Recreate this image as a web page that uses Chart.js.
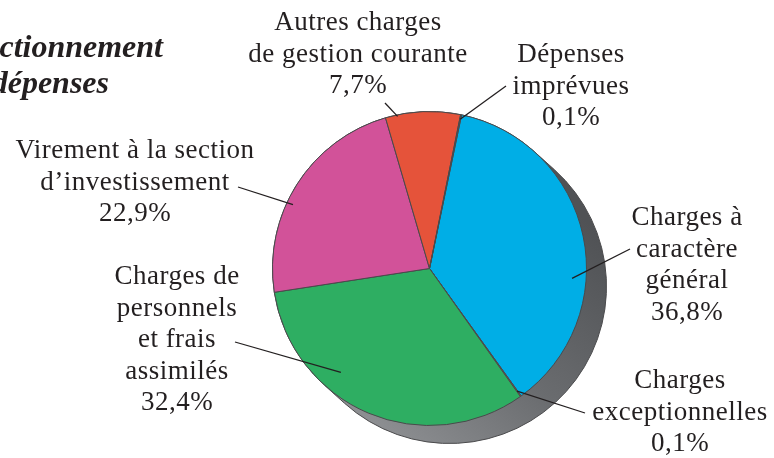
<!DOCTYPE html>
<html>
<head>
<meta charset="utf-8">
<script src="https://cdn.jsdelivr.net/npm/chart.js@4/dist/chart.umd.min.js"></script>
<style>
  html, body { margin:0; padding:0; background:#fff; }
  #pie { display:block; }
</style>
</head>
<body>
<canvas id="pie" width="774" height="458"></canvas>
<script>
// data, clockwise from the top
const categories = [
  ['Charges à', 'caractère', 'général'],
  ['Charges', 'exceptionnelles'],
  ['Charges de', 'personnels', 'et frais', 'assimilés'],
  ['Virement à la section', 'd\u2019investissement'],
  ['Autres charges', 'de gestion courante'],
  ['Dépenses', 'imprévues']
];
const shares = [36.8, 0.1, 32.4, 22.9, 7.7, 0.1];
const titleLines = ['Fonctionnement', 'des dépenses'];

const sliceColors = ['#00aee6', '#d8602f', '#2eae62', '#d25299', '#e5533a', '#5e5f62'];

// label placement: text centre, first baseline, leader start, anchor inside slice (t along arc, r fraction)
const labelLayout = [
  {x:687, y:225, from:[630,249], t:0.62, r:0.91},
  {x:680, y:388, from:[585,413], t:0.5,  r:0.96},
  {x:177, y:284, from:[235,342], t:0.65, r:0.87},
  {x:135, y:158, from:[238,187], t:0.41, r:0.96},
  {x:358, y:30,  from:[385,103], t:0.16, r:0.99},
  {x:571, y:62,  from:[506,86],  t:0.5,  r:0.97}
];
const lineH = 31.5;
const ink = '#231f20';
const labelFont = '27px "Liberation Serif", "Times New Roman", serif';

const fmt = v => v.toFixed(1).replace('.', ',') + '%';

// gray extrusion under the pie
const shadowPlugin = {
  id:'shadow3d',
  beforeDatasetsDraw(chart){
    const arc = chart.getDatasetMeta(0).data[0];
    if(!arc) return;
    const {x, y, outerRadius:R} = arc.getProps(['x','y','outerRadius'], true);
    const dx = 20, dy = 18;
    const th = Math.atan2(dy, dx);
    const ctx = chart.ctx;
    ctx.save();
    ctx.beginPath();
    ctx.arc(x+dx, y+dy, R, th - Math.PI/2, th + Math.PI/2);
    ctx.arc(x, y, R, th + Math.PI/2, th - Math.PI/2);
    ctx.closePath();
    const g = ctx.createLinearGradient(x+R, y-R*0.3, x-R*0.2, y+R+dy);
    g.addColorStop(0, '#505255');
    g.addColorStop(0.55, '#6a6c6f');
    g.addColorStop(1, '#8c8e91');
    ctx.fillStyle = g;
    ctx.fill();
    ctx.strokeStyle = '#4a4a4c';
    ctx.lineWidth = 1;
    ctx.stroke();
    ctx.restore();
  }
};

// outside labels, leader lines and the clipped title
const labelPlugin = {
  id:'outLabels',
  afterDatasetsDraw(chart){
    const ctx = chart.ctx;
    const arcs = chart.getDatasetMeta(0).data;
    ctx.save();
    ctx.strokeStyle = ink;
    ctx.lineWidth = 1.3;
    arcs.forEach((a, i)=>{
      const p = a.getProps(['x','y','startAngle','endAngle','outerRadius'], true);
      const L = labelLayout[i];
      const ang = p.startAngle + (p.endAngle - p.startAngle) * L.t;
      const ex = p.x + Math.cos(ang) * p.outerRadius * L.r;
      const ey = p.y + Math.sin(ang) * p.outerRadius * L.r;
      ctx.beginPath();
      ctx.moveTo(L.from[0], L.from[1]);
      ctx.lineTo(ex, ey);
      ctx.stroke();
    });
    ctx.fillStyle = ink;
    ctx.font = labelFont;
    ctx.letterSpacing = '0.5px';
    ctx.textAlign = 'center';
    ctx.textBaseline = 'alphabetic';
    categories.forEach((lines, i)=>{
      const L = labelLayout[i];
      lines.concat([fmt(shares[i])]).forEach((t, k)=>{
        ctx.fillText(t, L.x, L.y + k*lineH);
      });
    });
    ctx.letterSpacing = '0px';
    ctx.font = 'bold italic 32px "Liberation Serif", "Times New Roman", serif';
    ctx.textAlign = 'right';
    ctx.fillText(titleLines[0], 163, 57);
    ctx.fillText(titleLines[1], 109, 93);
    ctx.restore();
  }
};

new Chart(document.getElementById('pie'), {
  type:'pie',
  data:{
    labels: categories,
    datasets:[{
      data: shares,
      backgroundColor: sliceColors,
      borderColor:'#4a4a4c',
      borderWidth:1,
      hoverOffset:0
    }]
  },
  options:{
    responsive:false,
    animation:false,
    rotation:11.8,
    layout:{padding:{left:272, right:187, top:111, bottom:32}},
    plugins:{legend:{display:false}, tooltip:{enabled:false}, title:{display:false}}
  },
  plugins:[shadowPlugin, labelPlugin]
});
</script>
</body>
</html>
